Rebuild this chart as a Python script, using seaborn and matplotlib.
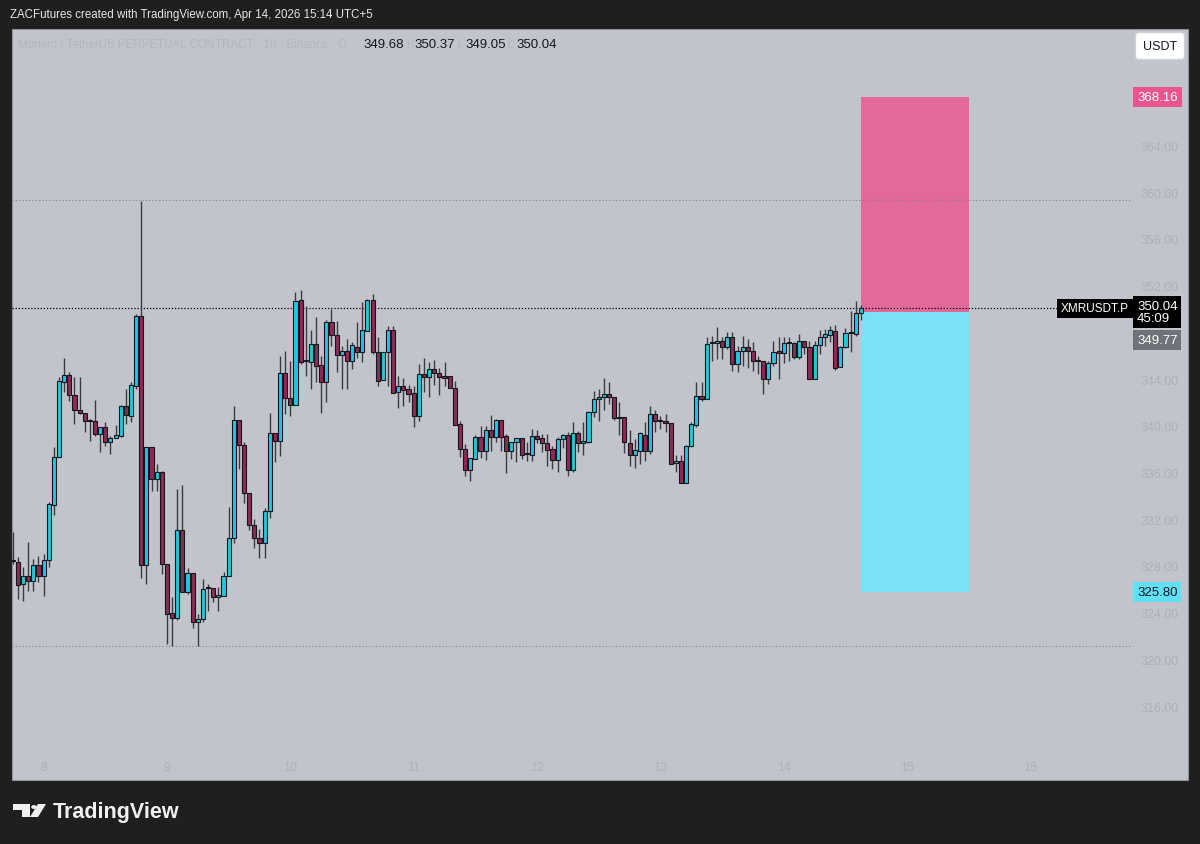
import numpy as np
import pandas as pd
import matplotlib
matplotlib.use("Agg")
import matplotlib.pyplot as plt
import matplotlib.dates as mdates
import matplotlib.transforms as mtransforms
from matplotlib.patches import Rectangle, Circle, Polygon
import seaborn as sns

# hourly XMRUSDT.P candles, first bar 2026-04-07 18:00 (UTC+5)
start = "2026-04-07 18:00"
opens = [328.45, 328.37, 326.42, 327.11, 326.68, 328.11, 327.16, 328.51, 333.24, 337.30,
         343.78, 344.37, 342.66, 341.38, 341.09, 340.38, 340.38, 339.30, 339.92, 338.64,
         338.98, 339.15, 341.66, 340.86, 343.38, 349.37, 328.08, 338.15, 335.44, 336.01,
         328.17, 323.97, 323.51, 331.07, 325.74, 327.36, 323.17, 323.46, 326.08, 326.08,
         325.31, 325.45, 327.11, 330.39, 340.49, 338.38, 334.24, 331.50, 330.36, 329.96,
         332.67, 339.35, 338.67, 344.52, 342.38, 341.78, 350.79, 345.51, 345.43, 346.99,
         345.20, 343.71, 348.91, 347.77, 346.08, 346.42, 345.57, 346.77, 346.34, 348.14,
         350.76, 346.34, 343.91, 346.28, 348.19, 342.85, 343.37, 343.14, 342.77, 340.86,
         344.43, 344.20, 344.85, 344.48, 344.28, 344.23, 343.20, 340.15, 338.01, 336.24,
         337.15, 339.01, 337.87, 339.63, 339.00, 340.49, 339.09, 337.81, 338.58, 338.95,
         337.55, 337.50, 339.15, 338.92, 338.49, 338.01, 337.10, 338.86, 339.24, 336.24,
         339.38, 338.49, 338.64, 341.15, 342.29, 342.49, 342.72, 342.49, 340.66, 340.72,
         338.49, 337.50, 337.87, 339.24, 337.87, 341.01, 340.43, 340.43, 340.23, 336.81,
         337.01, 335.07, 338.29, 340.06, 342.51, 342.28, 347.05, 347.05, 347.22, 346.76,
         347.56, 345.28, 346.42, 346.71, 346.42, 345.51, 345.51, 343.99, 345.37, 346.37,
         346.22, 347.05, 347.05, 345.85, 347.22, 346.76, 343.99, 346.94, 347.56, 347.76,
         348.08, 344.99, 346.71, 347.94, 347.86, 349.68]
highs = [330.87, 328.74, 327.88, 330.02, 328.59, 328.88, 329.02, 333.44, 338.15, 344.15,
         345.77, 344.63, 344.15, 344.20, 341.09, 340.58, 342.23, 339.92, 340.30, 339.15,
         340.06, 341.78, 343.15, 343.78, 349.57, 359.27, 338.21, 338.15, 336.73, 336.15,
         328.17, 325.31, 334.58, 334.93, 327.79, 327.36, 323.88, 326.88, 326.45, 326.08,
         326.17, 327.45, 333.00, 341.66, 340.49, 338.64, 334.24, 332.00, 331.16, 332.93,
         341.09, 339.35, 346.00, 346.43, 345.57, 351.48, 351.62, 350.22, 348.20, 349.33,
         346.00, 349.05, 349.99, 348.99, 346.85, 347.42, 347.14, 348.91, 350.56, 350.85,
         351.28, 347.57, 346.28, 348.56, 348.56, 344.28, 344.06, 343.49, 343.43, 345.28,
         345.77, 345.48, 345.62, 344.91, 345.48, 344.23, 343.86, 340.43, 338.43, 337.21,
         339.20, 339.95, 340.00, 340.92, 340.58, 340.49, 339.29, 338.64, 338.95, 338.95,
         338.58, 339.72, 339.63, 339.29, 339.29, 338.29, 339.00, 339.29, 339.43, 340.29,
         339.58, 340.29, 341.29, 343.00, 343.14, 344.06, 343.72, 342.49, 342.06, 340.72,
         339.63, 338.86, 339.43, 340.29, 341.72, 341.35, 340.86, 341.00, 340.23, 337.50,
         337.50, 338.35, 340.29, 343.72, 343.71, 347.56, 347.71, 348.42, 347.56, 347.99,
         347.99, 346.85, 347.71, 347.42, 347.14, 345.99, 345.51, 345.57, 347.22, 347.56,
         347.56, 347.56, 347.14, 347.85, 347.22, 347.28, 347.22, 348.22, 348.28, 348.56,
         348.62, 346.79, 348.33, 349.80, 350.71, 350.37]
lows = [328.17, 325.17, 325.03, 325.88, 325.88, 326.59, 325.45, 327.88, 332.36, 337.30,
        342.86, 342.15, 340.15, 341.00, 339.44, 338.72, 339.15, 337.72, 338.30, 337.58,
        338.92, 339.00, 340.15, 340.30, 343.15, 326.94, 326.45, 334.44, 334.44, 327.31,
        321.32, 321.17, 323.40, 325.74, 325.60, 322.66, 321.17, 323.23, 324.17, 324.88,
        324.17, 325.45, 327.11, 329.96, 336.30, 333.39, 331.10, 329.50, 328.65, 328.65,
        332.07, 336.87, 337.44, 341.00, 340.86, 341.78, 345.28, 344.28, 343.14, 343.71,
        341.06, 342.00, 346.85, 344.57, 343.14, 343.14, 344.85, 345.77, 345.48, 348.14,
        346.14, 343.43, 343.91, 343.43, 342.80, 341.49, 341.72, 342.00, 339.92, 340.43,
        342.91, 342.43, 343.49, 342.63, 343.43, 343.20, 340.09, 337.29, 335.72, 335.29,
        337.15, 337.21, 337.07, 337.87, 338.58, 337.87, 335.92, 337.15, 336.92, 337.15,
        337.01, 337.01, 338.49, 337.72, 336.52, 336.30, 336.07, 338.07, 335.72, 336.01,
        337.72, 337.50, 338.49, 340.72, 340.43, 341.35, 341.86, 340.52, 339.20, 337.67,
        336.58, 336.35, 336.72, 337.01, 337.58, 339.49, 339.72, 339.43, 336.72, 336.07,
        335.07, 335.07, 338.15, 339.86, 342.14, 342.28, 345.57, 345.71, 345.71, 346.57,
        344.71, 344.57, 345.14, 344.91, 344.71, 344.42, 342.71, 343.57, 345.14, 343.99,
        345.37, 345.57, 345.71, 345.71, 346.14, 343.99, 343.99, 346.14, 346.85, 347.14,
        344.77, 344.99, 346.62, 346.30, 347.66, 349.05]
closes = [328.45, 326.37, 327.11, 326.68, 328.11, 327.16, 328.53, 333.30, 337.30, 343.80,
          344.37, 342.66, 341.35, 341.06, 340.41, 340.38, 339.30, 339.92, 338.64, 338.95,
          339.24, 341.66, 340.92, 343.49, 349.37, 328.08, 338.21, 335.44, 336.01, 328.17,
          323.88, 323.51, 331.07, 325.74, 327.36, 323.17, 323.46, 326.02, 326.08, 325.31,
          325.51, 327.11, 330.39, 340.49, 338.38, 334.24, 331.50, 330.36, 329.96, 332.73,
          339.35, 338.72, 344.52, 342.38, 341.78, 350.71, 345.48, 345.51, 346.99, 345.14,
          343.71, 348.91, 347.77, 346.08, 346.42, 345.57, 346.91, 346.34, 348.19, 350.76,
          346.28, 343.86, 346.28, 348.19, 342.80, 343.43, 343.09, 342.72, 340.86, 344.43,
          344.20, 344.85, 344.48, 344.20, 344.08, 343.20, 340.09, 338.01, 336.24, 337.21,
          339.00, 337.87, 339.63, 339.00, 340.52, 339.06, 337.81, 338.58, 338.95, 337.50,
          337.55, 339.15, 338.86, 338.49, 337.95, 337.10, 338.86, 339.24, 336.24, 339.38,
          338.49, 338.66, 341.15, 342.29, 342.49, 342.72, 342.49, 340.66, 340.66, 338.58,
          337.50, 337.95, 339.35, 337.87, 341.01, 340.38, 340.43, 340.23, 336.72, 337.01,
          335.07, 338.29, 340.15, 342.52, 342.28, 346.99, 347.05, 347.22, 346.76, 347.56,
          345.28, 346.42, 346.71, 346.42, 345.51, 345.51, 343.99, 345.37, 346.34, 346.22,
          347.05, 347.05, 345.85, 347.22, 346.76, 343.99, 346.94, 347.56, 347.85, 348.19,
          344.91, 346.71, 347.94, 347.90, 349.68, 350.04]

# drawn levels and the short position tool
hi_level = 359.33
lo_level = 321.12
last_price = 350.04
entry_price = 349.77
stop_price = 368.16
target_price = 325.80
box_start = "2026-04-14 15:00"
box_end = "2026-04-15 12:00"
price_ticks = [316, 320, 324, 328, 332, 336, 340, 344, 352, 356, 360, 364]
day_ticks = pd.date_range("2026-04-08", "2026-04-16", freq="D")

UP = "#22c7df"
DOWN = "#8c2b57"
BG = "#c1c4cb"
DARK = "#1f1f1f"
FAINT = "#adb0b7"
SANS = ["Liberation Sans", "DejaVu Sans"]

sns.set_theme(style="white", rc={"figure.facecolor": DARK, "axes.facecolor": BG})
plt.rcParams["font.family"] = SANS

df = pd.DataFrame({"time": pd.date_range(start, periods=len(opens), freq="h"),
                   "open": opens, "high": highs, "low": lows, "close": closes})
df["x"] = mdates.date2num(df["time"].values)
df["up"] = df["close"] >= df["open"]

W, H = 1200, 845
fx = lambda px: px / W
fy = lambda py: 1 - py / H

fig = plt.figure(figsize=(12, 8.45), dpi=100)
fig.patches.append(Rectangle((fx(12), fy(781)), fx(1188) - fx(12), fy(30) - fy(781),
                             transform=fig.transFigure, facecolor=BG,
                             edgecolor="#8e9198", lw=0.8, zorder=-5))

ax = fig.add_axes([fx(12), fy(750), fx(1132) - fx(12), fy(30) - fy(750)])
ax.set_facecolor("none")
ax.set_zorder(2)
for s in ax.spines.values():
    s.set_visible(False)

hour = 1 / 24
x0 = df["x"].iloc[0]
ax.set_xlim(x0 - 0.15 * hour, x0 + 217.75 * hour)
ax.set_ylim(312.32, 373.97)

# position tool (short): stop above, target below
bx = mdates.date2num(pd.to_datetime([box_start, box_end]).values)
ax.fill_between(bx, entry_price, stop_price, color="#e2699a", lw=0, zorder=1)
ax.fill_between(bx, target_price, entry_price, color="#7be2f5", lw=0, zorder=1)

# horizontal levels
ax.axhline(hi_level, color="#7e818a", lw=0.8, ls=(0, (1, 2)), zorder=1)
ax.axhline(lo_level, color="#7e818a", lw=0.8, ls=(0, (1, 2)), zorder=1)
ax.axhline(last_price, xmax=(1058 - 12) / 1120, color="black", lw=0.9, ls=(0, (1, 1.5)), zorder=1)

# candles
ax.vlines(df["x"], df["low"], df["high"], color="#3a3c41", lw=1.0, zorder=2)
body_lo = np.minimum(df["open"], df["close"])
body_h = np.maximum((df["close"] - df["open"]).abs(), 0.09)
ax.bar(df["x"], body_h, bottom=body_lo, width=0.8 * hour,
       color=np.where(df["up"], UP, DOWN), edgecolor="#15161a", linewidth=0.8, zorder=3)

# axes ticks
ax.yaxis.tick_right()
ax.set_yticks(price_ticks)
ax.set_yticklabels([f"{p:.2f}" for p in price_ticks])
ax.set_xticks(mdates.date2num(day_ticks.values))
ax.set_xticklabels([str(d.day) for d in day_ticks])
ax.tick_params(axis="y", length=0, pad=6, labelsize=9, labelcolor=FAINT)
ax.tick_params(axis="x", length=0, pad=9, labelsize=9, labelcolor=FAINT)
ax.grid(False)

# price scale labels
trans = mtransforms.blended_transform_factory(ax.transAxes, ax.transData)
xr = 1 + 5 / 1120
ax.text(xr, stop_price, "368.16", transform=trans, ha="left", va="center", color="white",
        fontsize=9.5, bbox=dict(boxstyle="square,pad=0.3", fc="#e8558f", ec="none"), clip_on=False)
ax.text(xr, target_price, "325.80", transform=trans, ha="left", va="center", color="#131722",
        fontsize=9.5, bbox=dict(boxstyle="square,pad=0.3", fc="#5fe0f4", ec="none"), clip_on=False)
ax.text(xr, last_price + 0.75, "350.04\n45:09", transform=trans, ha="left", va="top",
        color="white", fontsize=9.5, linespacing=1.0,
        bbox=dict(boxstyle="square,pad=0.3", fc="black", ec="none"), clip_on=False)
ax.text(xr, last_price - 2.7, "349.77", transform=trans, ha="left", va="center", color="white",
        fontsize=9.5, bbox=dict(boxstyle="square,pad=0.3", fc="#6f727a", ec="none"), clip_on=False)
ax.text(1 - 3 / 1120, last_price, "XMRUSDT.P", transform=trans, ha="right", va="center",
        color="white", fontsize=8.5,
        bbox=dict(boxstyle="square,pad=0.3", fc="black", ec="none"), clip_on=False)

fig.text(fx(1160), fy(47), "USDT", ha="center", va="center", fontsize=9, color="#131722",
         bbox=dict(boxstyle="round,pad=0.6,rounding_size=0.3", fc="white", ec="#d0d2d6"))

# header and legend
fig.text(fx(10), fy(15), "ZACFutures created with TradingView.com, Apr 14, 2026 15:14 UTC+5",
         color="#e6e6e6", fontsize=8.3, va="center")
fig.text(fx(18), fy(45), "Monero / TetherUS PERPETUAL CONTRACT · 1h · Binance · O",
         color="#b3b6bd", fontsize=8.3, va="center")
for px, letter, val in [(363, "", "349.68"), (414, "H", "350.37"),
                        (465, "L", "349.05"), (516, "C", "350.04")]:
    if letter:
        fig.text(fx(px - 8), fy(45), letter, color="#b3b6bd", fontsize=7, va="center", ha="left")
    fig.text(fx(px), fy(45), val, color="#131722", fontsize=9.5, va="center", ha="left")

# footer logo
logo_c = "#f0f0f0"
fig.patches.append(Polygon([(fx(13), fy(805)), (fx(30), fy(805)), (fx(30), fy(818)),
                            (fx(22), fy(818)), (fx(22), fy(811)), (fx(13), fy(811))],
                           closed=True, transform=fig.transFigure, fc=logo_c, ec="none"))
fig.patches.append(Circle((fx(34), fy(808)), 2.8 / W, transform=fig.transFigure, fc=logo_c, ec="none"))
fig.patches.append(Polygon([(fx(38), fy(805)), (fx(46), fy(805)), (fx(38), fy(818)),
                            (fx(30), fy(818))],
                           closed=True, transform=fig.transFigure, fc=logo_c, ec="none"))
fig.text(fx(53), fy(813), "TradingView", color=logo_c, fontsize=15.5, weight="bold", va="center")

fig.savefig("out.png", dpi=100, facecolor=DARK)
